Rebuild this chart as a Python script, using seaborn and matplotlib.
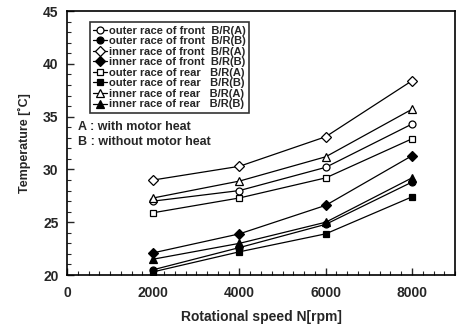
import matplotlib
matplotlib.use("Agg")
import matplotlib.pyplot as plt
import seaborn as sns
import pandas as pd
from matplotlib.ticker import MultipleLocator

sns.set_theme(style="ticks")
plt.rcParams['font.family'] = ['Liberation Sans', 'DejaVu Sans']

speeds = [2000, 4000, 6000, 8000]
labels = [
    "outer race of front  B/R(A)",
    "outer race of front  B/R(B)",
    "inner race of front  B/R(A)",
    "inner race of front  B/R(B)",
    "outer race of rear   B/R(A)",
    "outer race of rear   B/R(B)",
    "inner race of rear   B/R(A)",
    "inner race of rear   B/R(B)",
]
outer_front_A = [27.0, 28.0, 30.2, 34.3]
outer_front_B = [20.5, 22.6, 24.8, 28.8]
inner_front_A = [29.0, 30.3, 33.1, 38.4]
inner_front_B = [22.1, 23.9, 26.6, 31.3]
outer_rear_A = [25.9, 27.3, 29.2, 32.9]
outer_rear_B = [20.3, 22.2, 23.9, 27.4]
inner_rear_A = [27.3, 28.9, 31.2, 35.7]
inner_rear_B = [21.5, 23.0, 25.0, 29.2]
series = [outer_front_A, outer_front_B, inner_front_A, inner_front_B,
          outer_rear_A, outer_rear_B, inner_rear_A, inner_rear_B]
markers = ['o', 'o', 'D', 'D', 's', 's', '^', '^']
filled = [False, True, False, True, False, True, False, True]
sizes = [5, 5, 4.8, 4.8, 5, 5, 6, 6]

fig = plt.figure(figsize=(4.62, 3.27), dpi=100)
ax = fig.add_axes([0.145, 0.159, 0.84, 0.807])

for lab, vals, m, f, s in zip(labels, series, markers, filled, sizes):
    df = pd.DataFrame({"speed": speeds, "temp": vals})
    sns.lineplot(data=df, x="speed", y="temp", ax=ax, color="black",
                 linewidth=0.9, marker=m, markersize=s,
                 markerfacecolor=("black" if f else "white"),
                 markeredgecolor="black", markeredgewidth=0.9,
                 label=lab)

ax.set_xlim(0, 9000)
ax.set_ylim(20, 45)
ax.set_xticks([0, 2000, 4000, 6000, 8000])
ax.set_yticks([20, 25, 30, 35, 40, 45])
ax.xaxis.set_minor_locator(MultipleLocator(250))
ax.yaxis.set_minor_locator(MultipleLocator(1))
ax.tick_params(axis='both', which='major', direction='in', length=5, width=1,
               labelsize=10, top=False, right=False)
ax.tick_params(axis='x', which='major', pad=8)
ax.tick_params(axis='y', which='major', pad=6)
ax.tick_params(axis='both', which='minor', direction='in', length=3, width=0.8,
               top=False, right=False)
for lbl in ax.get_xticklabels() + ax.get_yticklabels():
    lbl.set_fontweight('bold')
for sp in ax.spines.values():
    sp.set_color('black')
    sp.set_linewidth(1.2)

ax.set_xlabel("Rotational speed N[rpm]", fontsize=10, fontweight='bold', labelpad=7)
ax.set_ylabel("Temperature [˚C]", fontsize=9, fontweight='bold', labelpad=9)

leg = ax.legend(loc='upper left', bbox_to_anchor=(0.059, 0.958), borderaxespad=0,
                handlelength=1.2, handletextpad=0.2,
                labelspacing=0.05, borderpad=0.3, frameon=True, fancybox=False,
                prop={'weight': 'bold', 'size': 8})
leg.get_frame().set_edgecolor('black')
leg.get_frame().set_linewidth(1.2)

ax.text(0.028, 0.56, "A : with motor heat", transform=ax.transAxes,
        fontsize=9, fontweight='bold', va='center', ha='left')
ax.text(0.028, 0.505, "B : without motor heat", transform=ax.transAxes,
        fontsize=9, fontweight='bold', va='center', ha='left')

fig.savefig("out.png", dpi=100)
